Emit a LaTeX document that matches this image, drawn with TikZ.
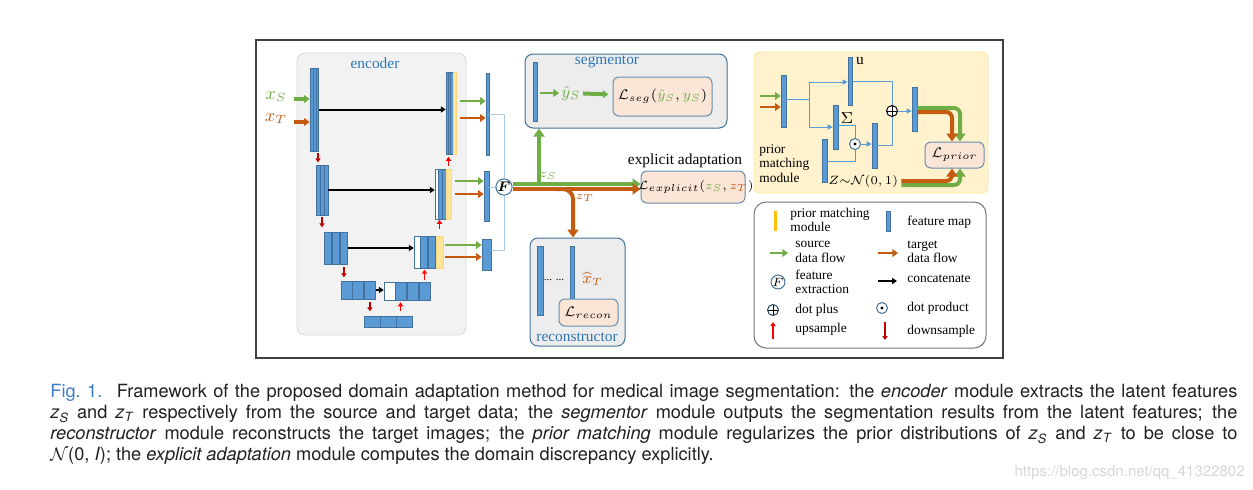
\documentclass[tikz,border=0pt]{standalone}
\usepackage{amsmath}
\usepackage{fontspec}
\setmainfont{Liberation Serif}
\newfontfamily\capfont{TeX Gyre Heros}
\usetikzlibrary{arrows.meta,fit,positioning}

\definecolor{fmapfill}{HTML}{5B9BD5}
\definecolor{fmapline}{HTML}{41719C}
\definecolor{srccol}{HTML}{70AD47}
\definecolor{tgtcol}{HTML}{C55A11}
\definecolor{pmfill}{HTML}{FFE699}
\definecolor{pmlegend}{HTML}{FFC000}
\definecolor{upcol}{HTML}{FF0000}
\definecolor{downcol}{HTML}{C00000}
\definecolor{modblue}{HTML}{2E75B6}
\definecolor{lossfill}{HTML}{FBE5D6}
\definecolor{boxgray}{HTML}{EDEDED}
\definecolor{encgray}{HTML}{F2F2F2}
\definecolor{priorbg}{HTML}{FFF2CC}
\definecolor{linkcol}{HTML}{A9CBE8}
\definecolor{capblue}{HTML}{3A7DC9}
\definecolor{capblack}{HTML}{231F20}
\definecolor{wmcol}{HTML}{D6D6D6}

\newcommand{\fmapbox}[6]{\node[#1, fit={(#3,#4) (#5,#6)}] (#2) {};}

\tikzset{
  fmap/.style={draw=fmapline, fill=fmapfill, line width=0.3pt, inner sep=0pt},
  pmstrip/.style={draw=pmfill!85!orange, fill=pmfill, line width=0.2pt, inner sep=0pt},
  blankmap/.style={draw=fmapline, fill=white, line width=0.3pt, inner sep=0pt},
  srcflow/.style={srccol, line width=1.3pt, -{Triangle[width=3.8pt,length=2.8pt]}},
  tgtflow/.style={tgtcol, line width=1.3pt, -{Triangle[width=3.8pt,length=2.8pt]}},
  srcthick/.style={srccol, line width=2pt, -{Triangle[width=5.5pt,length=4pt]}},
  tgtthick/.style={tgtcol, line width=2pt, -{Triangle[width=5.5pt,length=4pt]}},
  concat/.style={black, line width=1pt, -{Triangle[width=3pt,length=2.4pt]}},
  upsmp/.style={upcol, line width=0.8pt, -{Triangle[width=2.6pt,length=2pt]}},
  dnsmp/.style={downcol, line width=0.8pt, -{Triangle[width=2.6pt,length=2pt]}},
  link/.style={linkcol, line width=0.5pt},
  plink/.style={fmapfill, line width=0.5pt},
  plinkarr/.style={plink, -{Triangle[width=2.6pt,length=2.6pt]}},
  module/.style={draw=fmapline, fill=boxgray, rounded corners=4pt, line width=0.5pt, inner sep=0pt},
  loss/.style={draw=fmapline!80, fill=lossfill, rounded corners=3pt, line width=0.5pt, inner sep=0pt},
  lossfont/.style={font=\fontsize{6.7}{8}\selectfont, inner sep=0pt},
  lbl/.style={font=\fontsize{7.7}{8}\selectfont, inner sep=1pt},
  leg/.style={font=\fontsize{6.7}{7.2}\selectfont, align=left, anchor=west, inner sep=0pt},
  opnode/.style={circle, draw=fmapline, fill=white, line width=0.5pt, inner sep=0pt, minimum size=5.5pt},
  plusop/.style={opnode, draw=black, path picture={
    \draw[black, line width=0.5pt] (path picture bounding box.north) -- (path picture bounding box.south)
      (path picture bounding box.west) -- (path picture bounding box.east);}},
  dotop/.style={opnode, path picture={\fill[black] (path picture bounding box.center) circle (0.8pt);}}
}

\begin{document}
\begin{tikzpicture}[x=0.5pt, y=-0.5pt]
\useasboundingbox (0,0) rectangle (1253,489);
\draw[black!75, line width=0.6pt] (256,40) rectangle (1003,358);

% encoder
\node[draw=black!15, fill=encgray, rounded corners=4pt, inner sep=0pt, fit={(297,53) (466,335)}] (encoder) {};
\node[lbl, text=modblue] at (375,63) {encoder};
\foreach \i in {0,1,2} {\fmapbox{fmap}{enc1\i}{310+2.9*\i}{68}{312.9+2.9*\i}{151}}
\foreach \i in {0,1,2} {\fmapbox{fmap}{dec1\i}{446+2.33*\i}{72}{448.33+2.33*\i}{154}}
\fmapbox{pmstrip}{dec1y}{453}{72}{456}{154}
\foreach \i in {0,1,2} {\fmapbox{fmap}{enc2\i}{316+4*\i}{165}{320+4*\i}{215}}
\fmapbox{blankmap}{dec2w}{435}{169}{438}{219}
\fmapbox{fmap}{dec20}{438}{169}{442}{219}
\fmapbox{fmap}{dec21}{442}{169}{446}{219}
\fmapbox{pmstrip}{dec2y}{446}{169}{451}{219}
\foreach \i in {0,1,2} {\fmapbox{fmap}{enc3\i}{324+8.2*\i}{232}{331+8.2*\i}{264}}
\fmapbox{blankmap}{dec3w}{414}{236}{420}{268}
\fmapbox{fmap}{dec30}{420}{236}{427}{268}
\fmapbox{fmap}{dec31}{428}{236}{435}{268}
\fmapbox{pmstrip}{dec3y}{436}{236}{443}{268}
\foreach \i in {0,1,2} {\fmapbox{fmap}{enc4\i}{341+11.7*\i}{281}{352+11.7*\i}{299}}
\fmapbox{blankmap}{dec4w}{384}{282}{395}{300}
\foreach \i in {0,1,2} {\fmapbox{fmap}{dec4\i}{395+12*\i}{282}{406+12*\i}{300}}
\foreach \i in {0,1,2} {\fmapbox{fmap}{bott\i}{364+16*\i}{316}{380+16*\i}{327}}

\draw[concat] (enc12.east) -- (enc12.east -| dec10.west);
\draw[concat] (enc22.east) -- (enc22.east -| dec2w.west);
\draw[concat] (enc32.east) -- (enc32.east -| dec3w.west);
\draw[concat] (enc42.east) -- (enc42.east -| dec4w.west);

\draw[dnsmp] ([xshift=-0.5pt,yshift=-1pt]enc12.south east) -- ++(0,-4.5pt);
\draw[dnsmp] ([yshift=-1pt]enc21.south) -- ++(0,-5pt);
\draw[dnsmp] ([yshift=-1.5pt]enc32.south) -- ++(0,-5pt);
\draw[dnsmp] ([yshift=-1.5pt]enc42.south) -- ++(0,-4.5pt);
\draw[upsmp] ([yshift=-5.5pt]dec40.south) -- ([yshift=-1pt]dec40.south);
\draw[upsmp] ([yshift=1pt]dec42.north) -- ++(0,5pt);
\draw[upsmp] ([yshift=3.5pt]dec3y.north) -- ++(0,4.5pt);
\draw[upsmp] ([yshift=1.5pt]dec2y.north) -- ++(0,4.5pt);

\node[text=srccol, font=\fontsize{9}{9}\selectfont] (xs) at (276,97) {$x_S$};
\node[text=tgtcol, font=\fontsize{9}{9}\selectfont] (xt) at (276,119) {$x_T$};
\draw[srcflow, line width=1.8pt] (xs.east |- 0,99) -- (enc10.west |- 0,99);
\draw[tgtflow, line width=1.8pt] (xt.east |- 0,122) -- (enc10.west |- 0,122);

% latent features
\fmapbox{fmap}{out1}{486}{73}{489}{155}
\fmapbox{fmap}{out2}{484}{171}{489}{221}
\fmapbox{fmap}{out3}{482}{239}{491}{270}
\draw[srcflow, shorten <=2pt] (dec1y.east |- 0,101) -- (out1.west |- 0,101);
\draw[tgtflow, shorten <=2pt] (dec1y.east |- 0,118) -- (out1.west |- 0,118);
\draw[srcflow, shorten <=2pt] (dec2y.east |- 0,181) -- (out2.west |- 0,181);
\draw[tgtflow, shorten <=2pt] (dec2y.east |- 0,194) -- (out2.west |- 0,194);
\draw[srcflow, shorten <=1pt] (dec3y.east |- 0,245) -- (out3.west |- 0,245);
\draw[tgtflow, shorten <=1pt] (dec3y.east |- 0,257) -- (out3.west |- 0,257);

\node[opnode, minimum size=7.5pt, font=\fontsize{7}{7}\selectfont] (F) at (504,187) {$\boldsymbol{F}$};
\draw[link] (out1.east |- 0,114) -| (F);
\draw[link] (out2.east |- F) -- (F);
\draw[link] (out3.east |- 0,250) -| (F);

% segmentor
\node[module, fit={(525,54) (727,128)}] (segm) {};
\node[lbl, text=modblue] at (607,62) {segmentor};
\fmapbox{fmap}{segf}{533}{62}{537}{121}
\node[lbl, text=srccol, font=\fontsize{8.5}{9}\selectfont] (yhat) at (571,93) {$\hat{y}_S$};
\node[loss, fit={(613,77) (712,116)}] (lseg) {};
\node[lossfont] at (lseg.center) {$\mathcal{L}_{seg}(\textcolor{srccol}{\hat{y}_S}, \textcolor{srccol}{y_S})$};
\draw[srcflow, shorten <=1.5pt] (segf.east |- yhat) -- (yhat);
\draw[srcflow, line width=2pt, shorten >=2pt] (yhat) -- (lseg);

% explicit adaptation
\node[loss, fit={(641,171) (745,203)}] (lexp) {};
\node[lbl] at (685,161) {explicit adaptation};
\coordinate (zs) at (539,184);
\coordinate (zt) at (573,189);
\draw[srcthick] ([yshift=1.5pt]F.east) -- ([yshift=1.5pt]F.east -| lexp.west);
\draw[tgtthick] ([yshift=-1pt]F.east) -- ([yshift=-1pt]F.east -| lexp.west);
\node[lossfont, font=\fontsize{6.2}{7}\selectfont] at ([xshift=1.5pt]lexp.center) {$\mathcal{L}_{explicit}(\textcolor{srccol}{z_S}, \textcolor{tgtcol}{z_T})$};
\draw[srcthick] (zs) -- (zs |- segm.south);
\node[font=\fontsize{6.5}{7}\selectfont, text=srccol] at (548,176) {$z_S$};

% reconstructor
\node[module, fit={(530,238) (625,346)}] (rec) {};
\draw[tgtthick, rounded corners=5pt] ([xshift=-8pt]zt) -- (zt) -- (zt |- rec.north);
\node[font=\fontsize{6.5}{7}\selectfont, text=tgtcol] at (585,198) {$z_T$};
\node[lbl, text=modblue] at (577,337) {reconstructor};
\fmapbox{fmap}{rec1}{537}{246}{543}{315}
\fmapbox{fmap}{rec2}{570}{246}{574}{299}
\node[font=\fontsize{5.5}{6}\selectfont, inner sep=0pt] at (554,280) {... ...};
\node[lbl, text=tgtcol, anchor=west, inner sep=0pt] at (582,279) {$\widehat{x}_T$};
\node[loss, fit={(559,299) (618,326)}] (lrec) {};
\node[lossfont] at (lrec.center) {$\mathcal{L}_{recon}$};

% prior matching
\node[draw=pmfill, fill=priorbg, rounded corners=3pt, inner sep=0pt, fit={(754,52) (988,193)}] (prior) {};
\fmapbox{fmap}{pA}{781}{75}{786}{127}
\fmapbox{fmap}{pU}{848}{57}{852}{105}
\fmapbox{fmap}{pSig}{833}{105}{838}{149}
\fmapbox{fmap}{pZ}{822}{139}{827}{182}
\fmapbox{fmap}{pD}{872}{123}{877}{168}
\fmapbox{fmap}{pE}{912}{87}{917}{131}
\node[dotop] (dot) at (855,144) {};
\node[plusop] (plus) at (892,111) {};
\coordinate (br) at (809,99);
\draw[srcflow] ([xshift=-10.5pt]pA.west |- 0,96) -- (pA.west |- 0,96);
\draw[tgtflow] ([xshift=-10.5pt]pA.west |- 0,107) -- (pA.west |- 0,107);
\draw[plink] (pA.east |- br) -- (br);
\draw[plinkarr] (br) |- (pU.west |- 0,82);
\draw[plinkarr] (br) |- (pSig.west |- 0,127);
\draw[plink] (pSig.east |- 0,125) -| (dot);
\draw[plink] (pZ.east |- 0,161) -| (dot);
\draw[plinkarr] (dot) -- (pD.west |- dot);
\draw[plink] (pU.east |- 0,81) -| (plus);
\draw[plink] (pD.east |- 0,145) -| (plus);
\draw[plinkarr] (plus) -- (pE.west |- plus);
\node[lbl] at (860,61) {u};
\node[lbl] at (847,118) {$\Sigma$};
\node[font=\fontsize{6}{6}\selectfont, inner sep=0.5pt, anchor=west] (zlab) at (827,181) {$Z{\sim}\mathcal{N}(0,1)$};
\node[leg, anchor=north west] at (759,144) {prior\\matching\\module};
\node[loss, fit={(925,142) (984,168)}] (lprior) {};
\node[lossfont] at (lprior.center) {$\mathcal{L}_{prior}$};
\draw[srcthick, rounded corners=3pt] ([yshift=0.5pt]pE.east) -| ([xshift=2.75pt]lprior.north);
\draw[tgtthick, rounded corners=3pt] ([yshift=-1.5pt]pE.east) -| ([xshift=-1.25pt]lprior.north);
\draw[srcthick, rounded corners=3pt] ([xshift=1pt,yshift=-2pt]zlab.east) -| ([xshift=2.75pt]lprior.south);
\draw[tgtthick, rounded corners=3pt] ([xshift=1pt]zlab.east) -| ([xshift=-1.25pt]lprior.south);

% legend
\node[draw=black!55, fill=white, rounded corners=6pt, line width=0.5pt, inner sep=0pt, fit={(754,202) (986,348)}] (legend) {};
\fill[pmlegend] (773.5,211) rectangle (777,231);
\node[leg] at (790,220) {prior matching\\module};
\draw[fmapline, fill=fmapfill, line width=0.3pt] (886,211) rectangle (890,231);
\node[leg] at (907,222) {feature map};
\draw[srcflow] (770,253) -- (788,253);
\node[leg] at (795,252) {source\\data flow};
\draw[tgtflow] (878,253) -- (898,253);
\node[leg] at (907,252) {target\\data flow};
\node[opnode, minimum size=6.5pt, font=\fontsize{6}{6}\selectfont] at (778,282) {$F$};
\node[leg] at (795,282) {feature\\extraction};
\draw[concat] (878,281) -- (897,281);
\node[leg] at (907,279) {concatenate};
\node[plusop, draw=fmapline!60!black] at (773,310) {};
\node[leg] at (795,310) {dot plus};
\node[dotop] at (882,308) {};
\node[leg] at (907,308) {dot product};
\draw[upsmp, line width=1.3pt] (773,339) -- (773,322);
\node[leg] at (795,329) {upsample};
\draw[dnsmp, line width=1.3pt] (885,322) -- (885,340);
\node[leg] at (907,331) {downsample};

% caption
\node[anchor=north west, inner sep=0pt, text width=593.5pt, align=justify, text=capblack,
  font=\capfont\fontsize{9.1}{10.5}\selectfont] (cap) at (50,384) {{\color{capblue}Fig.~1.}\hspace{0.8em}Framework of the proposed domain adaptation method for medical image segmentation: the \textit{encoder} module extracts the latent features\linebreak
\textit{z}\textsubscript{\textit{S}} and \textit{z}\textsubscript{\textit{T}} respectively from the source and target data; the \textit{segmentor} module outputs the segmentation results from the latent features; the\linebreak
\textit{reconstructor} module reconstructs the target images; the \textit{prior matching} module regularizes the prior distributions of \textit{z}\textsubscript{\textit{S}} and \textit{z}\textsubscript{\textit{T}} to be close to\linebreak
$\mathcal{N}$(0, \textit{I}); the \textit{explicit adaptation} module computes the domain discrepancy explicitly.};
\node[anchor=base east, inner sep=0pt, text=wmcol, font=\capfont\fontsize{7.5}{8}\selectfont] at (1245,476) {https://blog.csdn.net/qq\_41322802};
\end{tikzpicture}
\end{document}
